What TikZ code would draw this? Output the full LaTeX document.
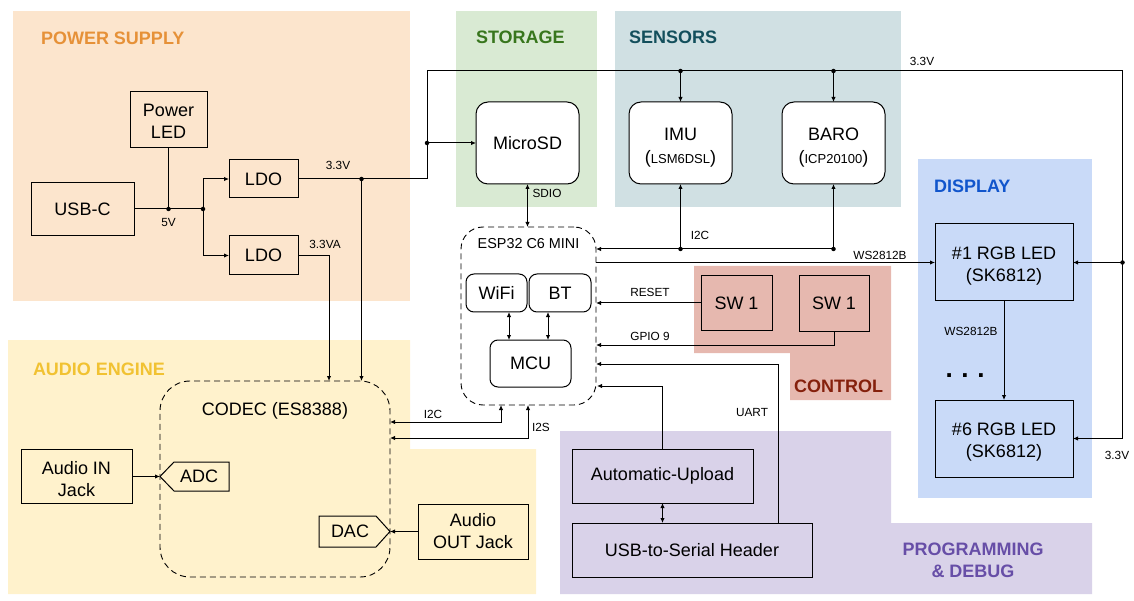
\documentclass[tikz,border=0pt]{standalone}
\usepackage{fontspec}
\setmainfont{Liberation Sans}
\usetikzlibrary{arrows.meta}
\definecolor{psbg}{HTML}{FCE5CD}\definecolor{pstx}{HTML}{E69138}
\definecolor{stbg}{HTML}{D9EAD3}\definecolor{sttx}{HTML}{38761D}
\definecolor{sebg}{HTML}{D0E0E3}\definecolor{setx}{HTML}{134F5C}
\definecolor{dibg}{HTML}{C9DAF8}\definecolor{ditx}{HTML}{1155CC}
\definecolor{cobg}{HTML}{E6B8AF}\definecolor{cotx}{HTML}{85200C}
\definecolor{aubg}{HTML}{FFF2CC}\definecolor{autx}{HTML}{F1C232}
\definecolor{prbg}{HTML}{D9D2E9}\definecolor{prtx}{HTML}{674EA7}
\begin{document}
\begin{tikzpicture}[x=1pt,y=-1pt,
  every node/.style={inner sep=0pt,outer sep=0pt},
  box/.style={draw,line width=1pt,align=center,font=\fontsize{18}{22}\selectfont},
  rbox/.style={box,rounded corners=12pt,fill=white},
  dbox/.style={draw,line width=0.9pt,dash pattern=on 6pt off 4pt},
  lbl/.style={font=\fontsize{11.8}{14}\selectfont},
  ttl/.style={font=\fontsize{18}{22}\selectfont\bfseries,anchor=west},
  pline/.style={line width=1pt},
  wire/.style={line width=1pt,-{Latex[length=5pt,width=4.5pt]}},
  dwire/.style={line width=1pt,{Latex[length=5pt,width=4.5pt]}-{Latex[length=5pt,width=4.5pt]}},
  jdot/.style={circle,fill,minimum size=4.5pt},
]
\useasboundingbox (0,0) rectangle (1134,601);
% regions
\fill[psbg] (13,11) rectangle (410,301);
\fill[stbg] (456,11) rectangle (597,207);
\fill[sebg] (615,11) rectangle (901,207);
\fill[dibg] (918,159) rectangle (1092,498);
\fill[cobg] (694,266) -- (891,266) -- (891,400) -- (790,400) -- (790,353) -- (694,353) -- cycle;
\fill[aubg] (8,340) -- (410,340) -- (410,449) -- (536,449) -- (536,594) -- (8,594) -- cycle;
\fill[prbg] (560,431) -- (891,431) -- (891,523) -- (1092,523) -- (1092,594) -- (560,594) -- cycle;
% titles
\node[ttl,text=pstx] (tps) at (41,38) {POWER SUPPLY};
\node[ttl,text=sttx] (tst) at (476,37) {STORAGE};
\node[ttl,text=setx] (tse) at (629,37) {SENSORS};
\node[ttl,text=ditx] (tdi) at (934,186) {DISPLAY};
\node[ttl,text=autx] (tau) at (33,369) {AUDIO ENGINE};
\node[ttl,text=cotx] (tco) at (794,386) {CONTROL};
\node[font=\fontsize{18}{22}\selectfont\bfseries,text=prtx,align=center] (tpr) at (973,560) {PROGRAMMING\\\& DEBUG};
% power boxes
\node[box,minimum width=77pt,minimum height=56pt] (pled) at (168.5,120) {\rule{0pt}{16pt}Power\\LED};
\node[box,minimum width=103pt,minimum height=53pt] (usbc) at (82.5,209) {USB-C};
\node[box,minimum width=69pt,minimum height=38pt] (ldo1) at (263.5,179) {LDO};
\node[box,minimum width=69pt,minimum height=39pt] (ldo2) at (263.5,255.5) {LDO};
% storage / sensors
\node[rbox,minimum width=103pt,minimum height=82pt] (sd) at (527.5,143) {MicroSD};
\node[rbox,minimum width=103pt,minimum height=82pt] (imu) at (680.5,143) {\rule{0pt}{21pt}IMU\\[1pt](\fontsize{13}{16}\selectfont LSM6DSL\fontsize{18}{22}\selectfont)};
\node[rbox,minimum width=103pt,minimum height=82pt] (baro) at (833.5,143) {\rule{0pt}{21pt}BARO\\[1pt](\fontsize{13}{16}\selectfont ICP20100\fontsize{18}{22}\selectfont)};
% ESP
\node[dbox,rounded corners=22pt,fill=white,minimum width=135pt,minimum height=178pt] (esp) at (528.5,316) {};
\node[font=\fontsize{14.4}{17}\selectfont] (esptitle) at (528.5,244) {ESP32 C6 MINI};
\node[box,rounded corners=8pt,fill=white,minimum width=61pt,minimum height=38pt] (wifi) at (496.5,293) {WiFi};
\node[box,rounded corners=8pt,fill=white,minimum width=62pt,minimum height=38pt] (bt) at (560,293) {BT};
\node[box,rounded corners=8pt,fill=white,minimum width=81pt,minimum height=47pt] (mcu) at (530.5,363.5) {MCU};
% control
\node[box,minimum width=71pt,minimum height=54pt] (sw1) at (736.5,303) {SW 1};
\node[box,minimum width=70pt,minimum height=55pt] (sw2) at (834,303.5) {SW 1};
% display
\node[box,minimum width=138pt,minimum height=77pt] (led1) at (1004,262.5) {\rule{0pt}{19.5pt}\#1 RGB LED\\(SK6812)};
\node[box,minimum width=138pt,minimum height=77pt] (led6) at (1004,438.5) {\rule{0pt}{19.5pt}\#6 RGB LED\\(SK6812)};
\node[font=\fontsize{26}{30}\selectfont\bfseries,anchor=base] (dots) at (965,377) {.\,\,.\,\,.};
% audio
\node[dbox,rounded corners=30pt,minimum width=230pt,minimum height=196pt] (codec) at (275,479) {};
\node[font=\fontsize{18}{22}\selectfont] (codectitle) at (275,411) {CODEC (ES8388)};
\node[box,minimum width=111pt,minimum height=54pt] (ain) at (76.5,476.5) {\rule{0pt}{18pt}Audio IN\\Jack};
\node[box,minimum width=110pt,minimum height=55pt] (aout) at (473,531.5) {Audio\\OUT Jack};
\draw[line width=1pt] (160,476.5) -- (174,462) -- (229,462) -- (229,491) -- (174,491) -- cycle;
\coordinate (adctip) at (160,476.5);
\node[font=\fontsize{18}{22}\selectfont] (adc) at (199,476.5) {ADC};
\draw[line width=1pt] (319,516) -- (376,516) -- (390,531.5) -- (376,547) -- (319,547) -- cycle;
\coordinate (dactip) at (390,531.5);
\node[font=\fontsize{18}{22}\selectfont] (dac) at (350,531.5) {DAC};
% programming
\node[box,minimum width=181pt,minimum height=54pt] (auto) at (662.5,476) {Automatic-Upload};
\node[box,minimum width=240pt,minimum height=54pt] (usbser) at (692,550) {USB-to-Serial Header};
% ---- connectors
% 5V
\coordinate (j5a) at (168.5,209);
\coordinate (j5b) at (203,209);
\draw[pline] (usbc.east) -- (j5b);
\draw[pline] (pled.south) -- (j5a);
\draw[wire] (j5b) |- (ldo1.west);
\draw[wire] (j5b) |- (ldo2.west);
\node[jdot] (d5a) at (j5a) {};
\node[jdot] (d5b) at (j5b) {};
\node[lbl] (l5v) at (168.5,223) {5V};
% 3.3V
\coordinate (cTL) at (427,71);
\coordinate (cTR) at (1122.5,71);
\coordinate (j33a) at (361.5,179);
\coordinate (j33b) at (427,143);
\coordinate (j33r) at (1122.5,262.5);
\coordinate (jimu) at (680.5,71);
\coordinate (jbaro) at (833.5,71);
\draw[wire] (ldo1.east) -| (cTL) -- (cTR) |- (led6.east);
\draw[wire] (j33b) -- (sd.west);
\draw[wire] (j33r) -- (led1.east);
\draw[wire] (jimu) -- (imu.north);
\draw[wire] (jbaro) -- (baro.north);
\coordinate (cva) at (329,381);
\coordinate (cvb) at (361.5,381);
\draw[wire] (j33a) -- (cvb);
\draw[wire] (ldo2.east) -| (cva);
\foreach \p in {j33a,j33b,j33r,jimu,jbaro}{\node[jdot] at (\p) {};}
\node[lbl] (l33a) at (338,165) {3.3V};
\node[lbl] (l33va) at (325,244) {3.3VA};
\node[lbl] (l33t) at (922,61) {3.3V};
\node[lbl] (l33b) at (1117,455) {3.3V};
% SDIO
\draw[dwire] (sd.south) -- (sd.south |- esp.north);
\node[lbl] (lsdio) at (547,193) {SDIO};
% sensor I2C
\coordinate (bi) at (680.5,249);
\coordinate (bb) at (833.5,249);
\draw[wire] (bb) -- (bb -| esp.east);
\draw[wire] (bi) -- (imu.south);
\draw[wire] (bb) -- (baro.south);
\node[jdot] at (bi) {};
\node[jdot] at (bb) {};
\node[lbl] (li2c) at (700,235) {I2C};
% WS2812B
\draw[wire] (esp.east |- led1.west) -- (led1.west);
\node[lbl] (lws1) at (880,255) {WS2812B};
\draw[wire] (led1.south) -- (led6.north);
\node[lbl] (lws2) at (971,331) {WS2812B};
% control
\draw[wire] (sw1.west) -- (sw1.west -| esp.east);
\node[lbl] (lrst) at (650,292) {RESET};
\coordinate (espG) at (596,345);
\draw[wire] (sw2.south) |- (espG);
\node[lbl] (lgpio) at (650,336) {GPIO 9};
% programming
\coordinate (uartB) at (778,523);
\coordinate (espU) at (596,364);
\draw[wire] (uartB) |- (espU);
\node[lbl] (luart) at (752,412) {UART};
\coordinate (espA) at (597,386);
\draw[wire] (auto.north) |- (espA);
\draw[dwire] (auto.south) -- (auto.south |- usbser.north);
% internal ESP
\draw[dwire] ([xshift=12.5pt]wifi.south) -- ([xshift=12.5pt]wifi.south |- mcu.north);
\draw[dwire] ([xshift=-12pt]bt.south) -- ([xshift=-12pt]bt.south |- mcu.north);
% codec links
\coordinate (eI2C) at (501,405);
\coordinate (cI2C) at (390,422);
\coordinate (eI2S) at (528,405);
\coordinate (cI2S) at (390,438);
\draw[dwire] (eI2C) |- (cI2C);
\draw[dwire] (eI2S) |- (cI2S);
\node[lbl] (lci2c) at (433,414) {I2C};
\node[lbl] (li2s) at (541,427) {I2S};
\draw[wire] (ain.east) -- (adctip);
\draw[wire] (aout.west) -- (dactip);
\end{tikzpicture}
\end{document}
